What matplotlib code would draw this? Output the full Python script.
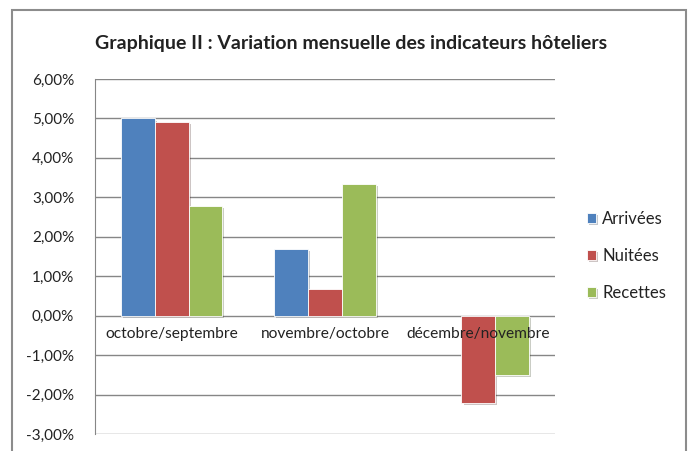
"""Graphique II : variation mensuelle des indicateurs hoteliers"""
import numpy as np
import matplotlib
matplotlib.use("Agg")
import matplotlib.pyplot as plt
import matplotlib.patheffects as pe
from matplotlib.patches import Rectangle
from matplotlib.ticker import FuncFormatter, MultipleLocator

categories = ["octobre/septembre", "novembre/octobre", "décembre/novembre"]
series_names = ["Arrivées", "Nuitées", "Recettes"]
arrivees = [5.00, 1.70, 0.00]
nuitees = [4.91, 0.67, -2.21]
recettes = [2.77, 3.33, -1.51]
colors = ["#4F81BD", "#C0504D", "#9BBB59"]

plt.rcParams['font.family'] = ['Lato', 'DejaVu Sans']

fig = plt.figure(figsize=(6.91, 4.51), dpi=100)
W, H = 691, 451
ax = fig.add_axes([95 / W, 1 - 434 / H, (555 - 95) / W, (434 - 79) / H])

x = np.arange(len(categories))
width = 0.22
shadow = [pe.SimplePatchShadow(offset=(1.5, -1.5), alpha=0.25), pe.Normal()]
for i, (name, vals) in enumerate(zip(series_names, [arrivees, nuitees, recettes])):
    bars = ax.bar(x + (i - 1) * width, vals, width, color=colors[i], label=name,
                  edgecolor="white", linewidth=0.6, zorder=3)
    for b, v in zip(bars, vals):
        if v == 0:
            b.set_visible(False)  # nothing drawn for a zero change
        b.set_path_effects(shadow)

ax.set_xlim(-0.5, 2.5)
ax.set_ylim(-3, 6)
ax.yaxis.set_major_locator(MultipleLocator(1))
ax.yaxis.set_major_formatter(FuncFormatter(lambda v, p: f"{v:.2f}%".replace(".", ",")))
ax.grid(axis="y", color="#868686", linewidth=1, zorder=0)
ax.set_xticks([])
ax.tick_params(axis="y", length=0, pad=15, labelsize=11, labelcolor="#222222")
for s in ["top", "right", "bottom"]:
    ax.spines[s].set_visible(False)
ax.spines["left"].set_color("#868686")

# category labels sit just below the zero line
for xi, lab in zip(x, categories):
    ax.annotate(lab, (xi, 0), xytext=(0, -8), textcoords="offset points",
                ha="center", va="top", fontsize=11.2, color="#222222", zorder=5)

fig.text(351 / W, 1 - 43 / H, "Graphique II : Variation mensuelle des indicateurs hôteliers",
         ha="center", va="center", fontsize=14, fontweight="bold", color="#222222")

leg = fig.legend(loc="center left", bbox_to_anchor=(572 / W, 1 - 256 / H), frameon=False,
                 fontsize=12, handlelength=0.55, handleheight=0.55, handletextpad=0.35,
                 labelspacing=1.25)
for t in leg.get_texts():
    t.set_color("#222222")

# outer chart border (bottom edge cut off in the source)
fig.patches.append(Rectangle((12 / W, -0.05), (686 - 12) / W, 1.05 - 10 / H,
                             transform=fig.transFigure, fill=False,
                             edgecolor="#8c8c8c", linewidth=1.5))

fig.savefig("out.png", dpi=100)
